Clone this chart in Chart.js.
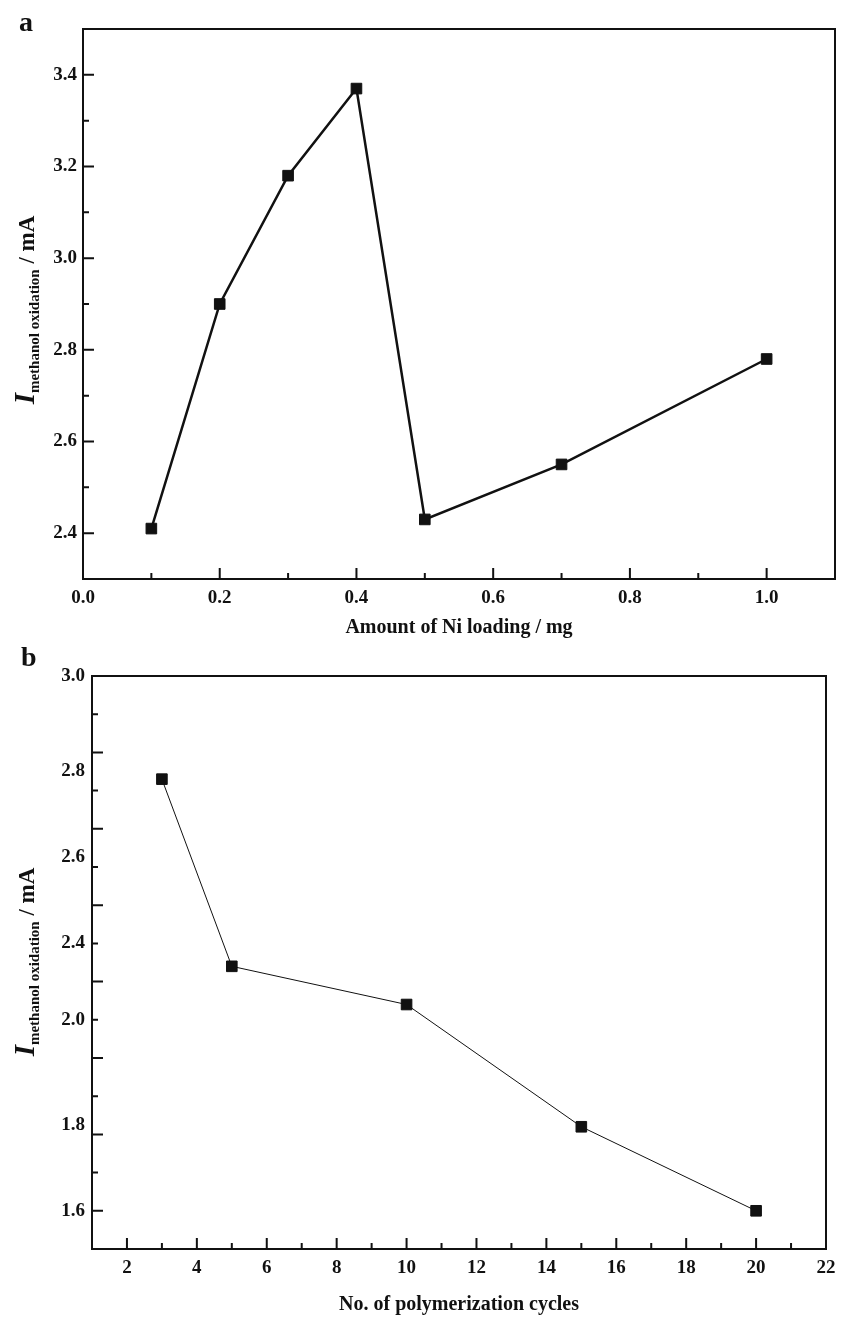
<!DOCTYPE html>
<html>
<head>
<meta charset="utf-8">
<script src="https://cdn.jsdelivr.net/npm/chart.js@4.4.0/dist/chart.umd.min.js"></script>
<style>
  html, body { margin: 0; padding: 0; background: #fff; }
  #page { position: relative; width: 851px; height: 1317px; font-family: "Liberation Serif", "Times New Roman", serif; color: #111; }
  .panel { position: absolute; left: 0; width: 851px; }
  .tag { position: absolute; font-weight: bold; font-size: 28px; line-height: 1; }
  .ytitle { position: absolute; white-space: nowrap; font-weight: bold; transform: translate(-50%, -50%) rotate(-90deg); line-height: 1; }
  .ytitle i { font-size: 29px; }
  .ytitle sub { font-size: 15px; vertical-align: -5px; }
  .ytitle span { font-size: 23px; }
</style>
</head>
<body>
<div id="page">
  <div class="panel" style="top:0;height:640px"><canvas id="loadingChart"></canvas></div>
  <div class="panel" style="top:640px;height:677px"><canvas id="cyclesChart"></canvas></div>
  <div class="tag" style="left:19px;top:8px">a</div>
  <div class="tag" style="left:21px;top:643px">b</div>
  <div class="ytitle" style="left:26px;top:310px"><i>I</i><sub>methanol oxidation</sub><span> / mA</span></div>
  <div class="ytitle" style="left:26px;top:962px"><i>I</i><sub>methanol oxidation</sub><span> / mA</span></div>
</div>
<script>
// panel a: current vs Ni loading
var loadingMg = [0.1, 0.2, 0.3, 0.4, 0.5, 0.7, 1.0];
var loadingCurrent = [2.41, 2.90, 3.18, 3.37, 2.43, 2.55, 2.78];

// panel b: current vs number of polymerization cycles
var cycles = [3, 5, 10, 15, 20];
var cyclesCurrent = [2.73, 2.24, 2.14, 1.82, 1.60];

// y tick labels of panel b and the axis value each one is printed at
var cyclesTickAt = [3.0, 2.75, 2.525, 2.3, 2.1, 1.825, 1.6];
var cyclesTickText = ['3.0', '2.8', '2.6', '2.4', '2.0', '1.8', '1.6'];

var ink = '#111';
Chart.defaults.color = ink;
Chart.defaults.font.family = '"Liberation Serif", "Times New Roman", serif';

function isMultiple(v, step) {
    var r = v / step;
    return Math.abs(r - Math.round(r)) < 1e-6;
}

// box frame plus inward major/minor tick marks on bottom and left
var frameTicks = {
    id: 'frameTicks',
    afterDraw: function(chart, args, opts) {
        var ctx = chart.ctx;
        var a = chart.chartArea;
        var sx = chart.scales.x, sy = chart.scales.y;
        ctx.save();
        ctx.strokeStyle = ink;
        ctx.lineWidth = 2;
        ctx.strokeRect(a.left, a.top, a.right - a.left, a.bottom - a.top);
        ctx.beginPath();
        sx.ticks.forEach(function(t) {
            if (!isMultiple(t.value, opts.xMinor)) return;
            var px = sx.getPixelForValue(t.value);
            var len = isMultiple(t.value, opts.xMajor) ? 11 : 6;
            ctx.moveTo(px, a.bottom);
            ctx.lineTo(px, a.bottom - len);
        });
        sy.ticks.forEach(function(t) {
            if (!isMultiple(t.value, opts.yMinor)) return;
            var py = sy.getPixelForValue(t.value);
            var len = isMultiple(t.value, opts.yMajor) ? 11 : 6;
            ctx.moveTo(a.left, py);
            ctx.lineTo(a.left + len, py);
        });
        ctx.stroke();
        ctx.restore();
    }
};

function toPoints(xs, ys) {
    var pts = [];
    for (var i in xs) {
        pts.push({x: xs[i], y: ys[i]});
    }
    return pts;
}

var tickFont = {size: 19, weight: 'bold'};
var titleFont = {size: 20, weight: 'bold'};

var loadingChart = new Chart($id('loadingChart'), {
    type: 'line',
    data: {
        datasets: [{
            data: toPoints(loadingMg, loadingCurrent),
            borderColor: ink,
            backgroundColor: ink,
            borderWidth: 2.5,
            pointStyle: 'rect',
            pointRadius: 7.5,
            pointBorderWidth: 1,
            tension: 0
        }]
    },
    options: {
        responsive: true,
        maintainAspectRatio: false,
        animation: false,
        devicePixelRatio: 1,
        layout: {padding: {top: 29, right: 16, left: 0, bottom: 0}},
        plugins: {
            legend: {display: false},
            tooltip: {enabled: false},
            frameTicks: {xMajor: 0.2, xMinor: 0.1, yMajor: 0.2, yMinor: 0.1}
        },
        scales: {
            x: {
                type: 'linear', min: 0, max: 1.1,
                grid: {display: false, drawTicks: false},
                border: {display: false},
                afterFit: function(s) { s.height = 61; },
                ticks: {
                    stepSize: 0.1, autoSkip: false, maxRotation: 0, padding: 8, font: tickFont,
                    callback: function(v) { return isMultiple(v, 0.2) ? v.toFixed(1) : ''; }
                },
                title: {display: true, text: 'Amount of Ni loading / mg', font: titleFont, padding: {top: 8, bottom: 0}}
            },
            y: {
                min: 2.3, max: 3.5,
                grid: {display: false, drawTicks: false},
                border: {display: false},
                afterFit: function(s) { s.width = 83; },
                ticks: {
                    stepSize: 0.1, autoSkip: false, padding: 6, font: tickFont,
                    callback: function(v) { return isMultiple(v, 0.2) ? v.toFixed(1) : ''; }
                }
            }
        }
    },
    plugins: [frameTicks]
});

var cyclesChart = new Chart($id('cyclesChart'), {
    type: 'line',
    data: {
        datasets: [{
            data: toPoints(cycles, cyclesCurrent),
            borderColor: ink,
            backgroundColor: ink,
            borderWidth: 1,
            pointStyle: 'rect',
            pointRadius: 7.5,
            pointBorderWidth: 1,
            tension: 0
        }]
    },
    options: {
        responsive: true,
        maintainAspectRatio: false,
        animation: false,
        devicePixelRatio: 1,
        layout: {padding: {top: 36, right: 25, left: 0, bottom: 0}},
        plugins: {
            legend: {display: false},
            tooltip: {enabled: false},
            frameTicks: {xMajor: 2, xMinor: 1, yMajor: 0.2, yMinor: 0.1}
        },
        scales: {
            x: {
                type: 'linear', min: 1, max: 22,
                grid: {display: false, drawTicks: false},
                border: {display: false},
                afterFit: function(s) { s.height = 68; },
                ticks: {
                    stepSize: 1, autoSkip: false, maxRotation: 0, padding: 8, font: tickFont,
                    callback: function(v) { return isMultiple(v, 2) ? String(v) : ''; }
                },
                title: {display: true, text: 'No. of polymerization cycles', font: titleFont, padding: {top: 14, bottom: 0}}
            },
            y: {
                min: 1.5, max: 3.0,
                grid: {display: false, drawTicks: false},
                border: {display: false},
                afterFit: function(s) { s.width = 92; },
                ticks: {
                    stepSize: 0.025, autoSkip: false, padding: 7, font: tickFont,
                    callback: function(v) {
                        for (var i in cyclesTickAt) {
                            if (Math.abs(cyclesTickAt[i] - v) < 1e-6) return cyclesTickText[i];
                        }
                        return '';
                    }
                }
            }
        }
    },
    plugins: [frameTicks]
});

function $id(id) { return document.getElementById(id); }
</script>
</body>
</html>
